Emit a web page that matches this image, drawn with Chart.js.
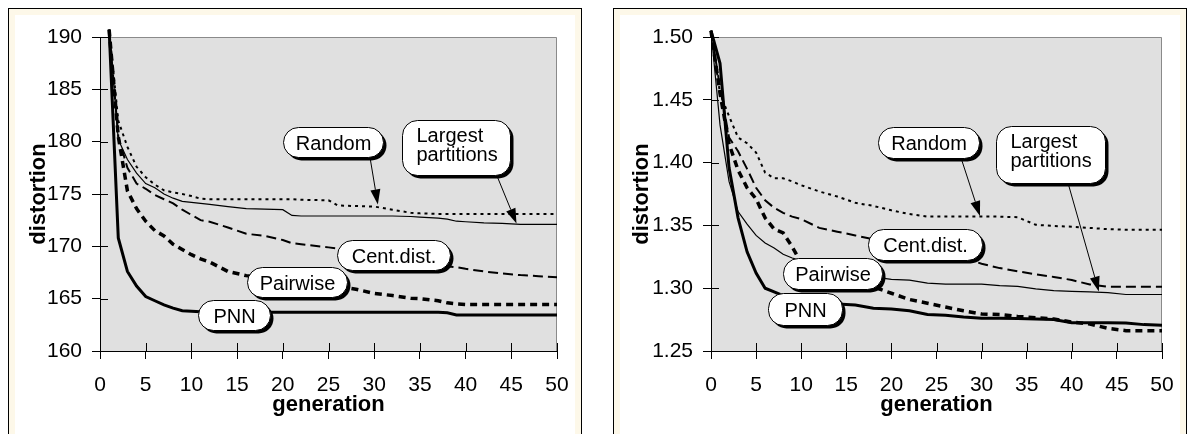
<!DOCTYPE html>
<html>
<head>
<meta charset="utf-8">
<script src="https://cdn.jsdelivr.net/npm/chart.js@4/dist/chart.umd.min.js"></script>
<style>
  body { margin: 0; background: #fff; width: 1191px; height: 434px; overflow: hidden; position: relative; }
  .panel { position: absolute; top: 8px; width: 572px; height: 440px; border: 1px solid #000;
           background: #fff; box-shadow: inset 0 0 0 6px #fdf8e9; }
  canvas { position: absolute; top: 0; }
</style>
</head>
<body>
<div class="panel" style="left:8px"></div>
<div class="panel" style="left:613px"></div>
<canvas id="left" width="595" height="434" style="left:0"></canvas>
<canvas id="right" width="596" height="434" style="left:595px"></canvas>

<script>
// ---- données -------------------------------------------------------------
const xTicks = [0, 5, 10, 15, 20, 25, 30, 35, 40, 45, 50];

// graphique de gauche
const yTicksLeft = [160, 165, 170, 175, 180, 185, 190];
const gensLeft = [1, 2, 3, 4, 5, 6, 7, 8, 9, 10, 11, 12, 14, 16, 18, 20, 21, 22, 25, 26, 28, 30, 32, 34, 35, 37, 38, 39, 40, 42, 44, 46, 48, 50];
const randomLeft   = [190.7, 182.0, 179.5, 177.6, 176.6, 175.9, 175.35, 175.15, 175.0, 174.8, 174.55, 174.5, 174.5, 174.5, 174.5, 174.5, 174.5, 174.45, 174.4, 173.9, 173.85, 173.8, 173.5, 173.2, 173.15, 173.1, 173.1, 173.1, 173.1, 173.1, 173.1, 173.1, 173.1, 173.1];
const largestLeft  = [190.7, 180.2, 178.3, 177.0, 176.0, 175.6, 175.0, 174.6, 174.3, 174.2, 174.1, 174.0, 173.8, 173.6, 173.55, 173.5, 172.95, 172.9, 172.9, 172.9, 172.9, 172.9, 172.9, 172.85, 172.8, 172.7, 172.6, 172.4, 172.35, 172.25, 172.2, 172.1, 172.1, 172.1];
const centLeft     = [190.7, 180.5, 177.5, 176.0, 175.5, 174.9, 174.5, 174.1, 173.5, 173.0, 172.5, 172.35, 171.8, 171.2, 171.0, 170.6, 170.3, 170.2, 169.9, 169.8, 169.7, 169.5, 169.1, 168.8, 168.6, 168.3, 168.1, 168.0, 167.85, 167.6, 167.4, 167.25, 167.15, 167.05];
const pairwiseLeft = [190.7, 180.5, 175.3, 173.6, 172.4, 171.5, 171.0, 170.2, 169.7, 169.2, 168.8, 168.5, 167.6, 167.2, 167.0, 166.8, 166.7, 166.6, 166.3, 166.2, 165.9, 165.5, 165.3, 165.05, 165.0, 164.8, 164.6, 164.5, 164.45, 164.45, 164.45, 164.45, 164.45, 164.45];
const pnnLeft      = [190.7, 170.8, 167.6, 166.2, 165.2, 164.8, 164.4, 164.1, 163.85, 163.8, 163.75, 163.7, 163.7, 163.7, 163.7, 163.7, 163.7, 163.7, 163.7, 163.7, 163.7, 163.7, 163.7, 163.7, 163.7, 163.7, 163.65, 163.45, 163.45, 163.45, 163.45, 163.45, 163.45, 163.45];

// graphique de droite
const yTicksRight = [1.25, 1.30, 1.35, 1.40, 1.45, 1.50];
const gensRight = [0, 1, 2, 3, 4, 5, 6, 7, 8, 9, 10, 12, 14, 16, 18, 20, 22, 24, 26, 28, 30, 32, 34, 36, 38, 40, 42, 44, 46, 48, 50];
const randomRight   = [1.505, 1.455, 1.437, 1.420, 1.4154, 1.408, 1.392, 1.3875, 1.3875, 1.385, 1.382, 1.377, 1.373, 1.368, 1.3655, 1.362, 1.359, 1.357, 1.357, 1.357, 1.357, 1.357, 1.3565, 1.3505, 1.3495, 1.349, 1.348, 1.347, 1.3465, 1.3465, 1.3465];
const largestRight  = [1.505, 1.430, 1.385, 1.361, 1.351, 1.342, 1.336, 1.332, 1.327, 1.324, 1.322, 1.319, 1.316, 1.312, 1.309, 1.307, 1.3065, 1.304, 1.3033, 1.3033, 1.3033, 1.302, 1.3015, 1.2995, 1.298, 1.2975, 1.297, 1.2965, 1.295, 1.295, 1.295];
const centRight     = [1.505, 1.460, 1.420, 1.409, 1.395, 1.380, 1.370, 1.364, 1.360, 1.357, 1.355, 1.348, 1.345, 1.342, 1.339, 1.336, 1.333, 1.330, 1.327, 1.324, 1.3195, 1.316, 1.3135, 1.311, 1.309, 1.3065, 1.303, 1.3012, 1.3012, 1.3012, 1.3012];
const pairwiseRight = [1.505, 1.455, 1.415, 1.394, 1.380, 1.371, 1.356, 1.347, 1.344, 1.333, 1.320, 1.313, 1.308, 1.304, 1.301, 1.296, 1.291, 1.288, 1.285, 1.282, 1.2795, 1.279, 1.2775, 1.2765, 1.2755, 1.273, 1.2715, 1.268, 1.2662, 1.2662, 1.2662];
const pnnRight      = [1.505, 1.479, 1.396, 1.356, 1.329, 1.312, 1.300, 1.297, 1.294, 1.292, 1.290, 1.288, 1.2875, 1.2866, 1.284, 1.2835, 1.282, 1.279, 1.2785, 1.277, 1.276, 1.276, 1.2758, 1.2755, 1.275, 1.2725, 1.2725, 1.2725, 1.2722, 1.271, 1.2705];

// ---- apparence -----------------------------------------------------------
const FONT = "Arial, 'Liberation Sans', sans-serif";
Chart.defaults.font.family = FONT;
Chart.defaults.color = '#000';

const seriesStyle = {
  random:   { borderWidth: 2,   borderDash: [3, 4] },
  largest:  { borderWidth: 1.2, borderDash: [] },
  cent:     { borderWidth: 2,   borderDash: [10, 5] },
  pairwise: { borderWidth: 3.5, borderDash: [7, 5] },
  pnn:      { borderWidth: 3,   borderDash: [] },
};

function points(gens, values) {
  return gens.map((g, i) => ({ x: g, y: values[i] }));
}

function dataset(gens, values, style) {
  return {
    data: points(gens, values),
    borderColor: '#000',
    pointRadius: 0,
    tension: 0,
    clip: false,
    ...style,
  };
}

function roundedRect(ctx, x, y, w, h, r) {
  ctx.beginPath();
  ctx.moveTo(x + r, y);
  ctx.arcTo(x + w, y, x + w, y + h, r);
  ctx.arcTo(x + w, y + h, x, y + h, r);
  ctx.arcTo(x, y + h, x, y, r);
  ctx.arcTo(x, y, x + w, y, r);
  ctx.closePath();
}

// fond gris de la zone de tracé + bords haut/droit gris + graduations internes
const plotFrame = {
  id: 'plotFrame',
  beforeDraw(chart) {
    const { ctx, chartArea: a } = chart;
    ctx.save();
    ctx.fillStyle = '#e0e0e0';
    ctx.fillRect(a.left, a.top, a.right - a.left, a.bottom - a.top);
    ctx.strokeStyle = '#8a8a8a';
    ctx.lineWidth = 1;
    ctx.beginPath();
    ctx.moveTo(a.left, a.top + 0.5);
    ctx.lineTo(a.right - 0.5, a.top + 0.5);
    ctx.lineTo(a.right - 0.5, a.bottom);
    ctx.stroke();
    ctx.restore();
  },
  beforeDatasetsDraw(chart) {
    const { ctx, chartArea: a, scales } = chart;
    ctx.save();
    ctx.strokeStyle = '#000';
    ctx.lineWidth = 1;
    ctx.beginPath();
    scales.x.ticks.forEach(t => {
      const px = Math.round(scales.x.getPixelForValue(t.value)) + 0.5;
      ctx.moveTo(px, a.bottom);
      ctx.lineTo(px, a.bottom - 8);
    });
    scales.y.ticks.forEach(t => {
      const py = Math.round(scales.y.getPixelForValue(t.value)) + 0.5;
      ctx.moveTo(a.left, py);
      ctx.lineTo(a.left + 8, py);
    });
    ctx.stroke();
    ctx.restore();
  },
};

// bulles de légende (positions en coordonnées des données) et flèches
function makeCallouts(boxes, arrows) {
  return {
    id: 'callouts',
    afterDatasetsDraw(chart) {
      const { ctx, scales: { x, y } } = chart;
      ctx.save();
      arrows.forEach(a => {
        const x1 = x.getPixelForValue(a.from[0]), y1 = y.getPixelForValue(a.from[1]);
        const x2 = x.getPixelForValue(a.to[0]), y2 = y.getPixelForValue(a.to[1]);
        const ang = Math.atan2(y2 - y1, x2 - x1);
        const len = 15, half = 5;
        ctx.strokeStyle = '#000';
        ctx.lineWidth = 1;
        ctx.beginPath();
        ctx.moveTo(x1, y1);
        ctx.lineTo(x2 - Math.cos(ang) * len, y2 - Math.sin(ang) * len);
        ctx.stroke();
        const bx = x2 - Math.cos(ang) * len, by = y2 - Math.sin(ang) * len;
        ctx.fillStyle = '#000';
        ctx.beginPath();
        ctx.moveTo(x2, y2);
        ctx.lineTo(bx + Math.sin(ang) * half, by - Math.cos(ang) * half);
        ctx.lineTo(bx - Math.sin(ang) * half, by + Math.cos(ang) * half);
        ctx.closePath();
        ctx.fill();
      });
      boxes.forEach(b => {
        const cx = x.getPixelForValue(b.at[0]), cy = y.getPixelForValue(b.at[1]);
        const left = Math.round(cx - b.w / 2) + 0.5, top = Math.round(cy - b.h / 2) + 0.5;
        const r = Math.min(15, b.h / 2);
        ctx.fillStyle = '#000';
        roundedRect(ctx, left + 3, top + 3, b.w, b.h, r);
        ctx.fill();
        ctx.fillStyle = '#fff';
        ctx.strokeStyle = '#000';
        ctx.lineWidth = 1;
        roundedRect(ctx, left, top, b.w, b.h, r);
        ctx.fill();
        ctx.stroke();
        ctx.fillStyle = '#000';
        ctx.font = '20px ' + FONT;
        ctx.textBaseline = 'alphabetic';
        if (b.lines.length === 1) {
          ctx.textAlign = 'center';
          ctx.fillText(b.lines[0], left + b.w / 2, top + b.h / 2 + 7);
        } else {
          ctx.textAlign = 'left';
          b.lines.forEach((t, i) => ctx.fillText(t, left + 14, top + 21 + i * 19));
        }
      });
      ctx.restore();
    },
  };
}

function buildChart(id, cfg) {
  return new Chart(document.getElementById(id), {
    type: 'line',
    data: {
      datasets: [
        dataset(cfg.gens, cfg.random, seriesStyle.random),
        dataset(cfg.gens, cfg.largest, seriesStyle.largest),
        dataset(cfg.gens, cfg.cent, seriesStyle.cent),
        dataset(cfg.gens, cfg.pairwise, seriesStyle.pairwise),
        dataset(cfg.gens, cfg.pnn, seriesStyle.pnn),
      ],
    },
    options: {
      responsive: false,
      animation: false,
      events: [],
      layout: { padding: cfg.padding },
      plugins: { legend: { display: false }, tooltip: { enabled: false } },
      scales: {
        x: {
          type: 'linear',
          min: 0,
          max: 50,
          afterBuildTicks: s => { s.ticks = xTicks.map(v => ({ value: v })); },
          afterFit: s => { s.height = 70; },
          grid: { drawOnChartArea: false, drawTicks: true, tickLength: 8, color: '#000' },
          border: { display: true, color: '#000', width: 1 },
          ticks: { font: { size: 21 }, padding: 14, maxRotation: 0, autoSkip: false },
          title: { display: true, text: 'generation', font: { size: 22, weight: 'bold' }, padding: { top: 0, bottom: 3 } },
        },
        y: {
          type: 'linear',
          min: cfg.yTicks[0],
          max: cfg.yTicks[cfg.yTicks.length - 1],
          afterBuildTicks: s => { s.ticks = cfg.yTicks.map(v => ({ value: v })); },
          afterFit: s => { s.width = cfg.axisWidth; },
          grid: { drawOnChartArea: false, drawTicks: true, tickLength: 8, color: '#000' },
          border: { display: true, color: '#000', width: 1 },
          ticks: { font: { size: 21 }, padding: 10, autoSkip: false, callback: v => v.toFixed(cfg.decimals) },
          title: { display: true, text: 'distortion', font: { size: 22, weight: 'bold' }, padding: { top: cfg.titlePad, bottom: 0 } },
        },
      },
    },
    plugins: [plotFrame, makeCallouts(cfg.boxes, cfg.arrows)],
  });
}

buildChart('left', {
  gens: gensLeft, random: randomLeft, largest: largestLeft, cent: centLeft, pairwise: pairwiseLeft, pnn: pnnLeft,
  yTicks: yTicksLeft, decimals: 0, axisWidth: 100, titlePad: 26,
  padding: { top: 37, right: 38, bottom: 13, left: 0 },
  boxes: [
    { lines: ['Random'], at: [25.5, 179.97], w: 100, h: 30 },
    { lines: ['Largest', 'partitions'], at: [38.95, 179.44], w: 108, h: 55 },
    { lines: ['Cent.dist.'], at: [32.1, 169.17], w: 113, h: 30 },
    { lines: ['Pairwise'], at: [21.55, 166.6], w: 100, h: 30 },
    { lines: ['PNN'], at: [14.66, 163.44], w: 72, h: 30 },
  ],
  arrows: [
    { from: [29.54, 178.5], to: [30.4, 174.0] },
    { from: [43.4, 176.8], to: [45.57, 172.18] },
  ],
});

buildChart('right', {
  gens: gensRight, random: randomRight, largest: largestRight, cent: centRight, pairwise: pairwiseRight, pnn: pnnRight,
  yTicks: yTicksRight, decimals: 2, axisWidth: 116, titlePad: 34,
  padding: { top: 37, right: 29, bottom: 13, left: 0 },
  boxes: [
    { lines: ['Random'], at: [24.11, 1.416], w: 101, h: 31 },
    { lines: ['Largest', 'partitions'], at: [37.64, 1.4064], w: 109, h: 57 },
    { lines: ['Cent.dist.'], at: [23.73, 1.3348], w: 114, h: 31 },
    { lines: ['Pairwise'], at: [13.47, 1.3117], w: 99, h: 31 },
    { lines: ['PNN'], at: [10.42, 1.2834], w: 74, h: 32 },
  ],
  arrows: [
    { from: [27.72, 1.4037], to: [29.82, 1.3575] },
    { from: [39.58, 1.3838], to: [43.0, 1.2974] },
  ],
});
</script>
</body>
</html>
